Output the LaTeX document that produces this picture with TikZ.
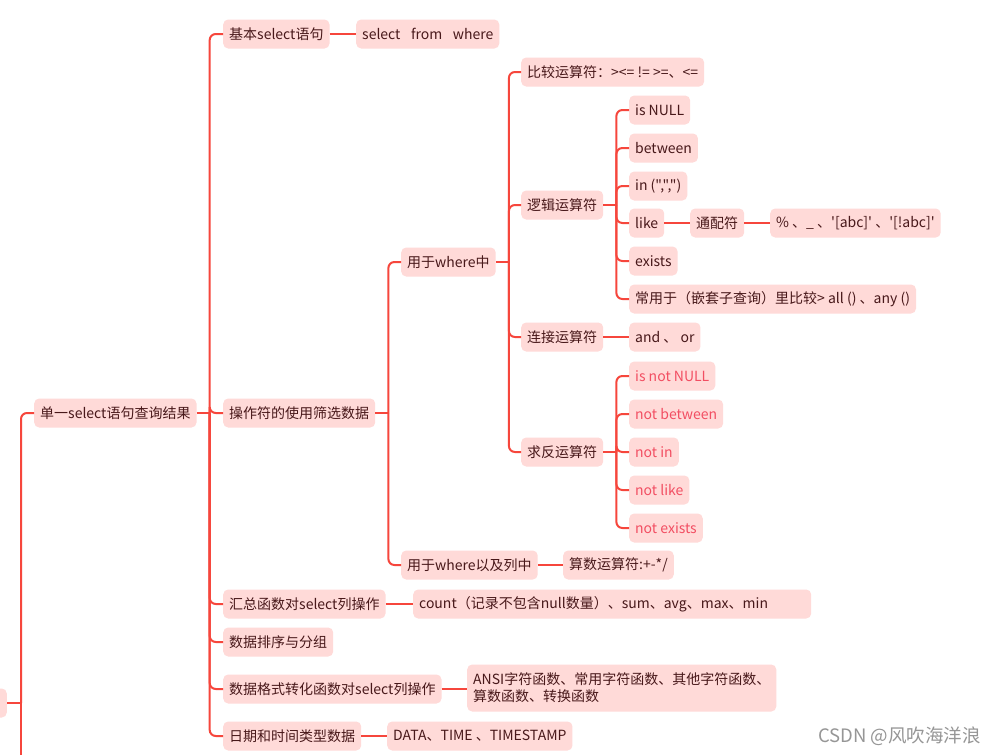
\documentclass[tikz,border=0pt]{standalone}
\usepackage{fontspec}
\setmainfont{Noto Sans CJK SC}[Ligatures=TeXOff]
\usetikzlibrary{calc}
\definecolor{linec}{RGB}{246,70,60}
\definecolor{boxc}{RGB}{255,218,216}
\definecolor{txtc}{RGB}{72,24,26}
\definecolor{notc}{RGB}{242,78,98}
\definecolor{wmc}{RGB}{150,150,150}
\tikzset{
  box/.style={fill=boxc, rounded corners=5pt, minimum height=29pt, inner xsep=6pt, inner ysep=0pt, anchor=west, text=txtc, font=\fontsize{14}{17}\selectfont},
  notbox/.style={box, text=notc},
  conn/.style={draw=linec, line width=2pt},
  elbow/.style={conn, rounded corners=6pt}
}
\begin{document}
\begin{tikzpicture}[x=1pt,y=-1pt]
\clip (0,0) rectangle (996,755);
\fill[white] (0,0) rectangle (996,755);

% nodes
\node[box, minimum width=80pt, anchor=east] (root) at (7,703) {};
\node[box] (single) at (34,413) {单一select语句查询结果};
\node[box] (basic) at (223,34) {基本select语句};
\node[box] (sfw) at (356,34) {select\hspace{0.75em}from\hspace{0.75em}where};
\node[box] (ops) at (223,413) {操作符的使用筛选数据};
\node[box] (inwhere) at (401,262) {用于where中};
\node[box] (cmp) at (521,72) {比较运算符：><= != >=、<=};
\node[box] (logic) at (521,205) {逻辑运算符};
\node[box] (isnull) at (629,110) {is NULL};
\node[box] (between) at (629,148) {between};
\node[box] (in) at (629,186) {in (",",")};
\node[box] (like) at (629,223) {like};
\node[box] (wild) at (690,223) {通配符};
\node[box] (wildv) at (770,223) {\% 、\_ 、'[abc]' 、'[!abc]'};
\node[box] (exists) at (629,261) {exists};
\node[box] (nested) at (629,299) {常用于（嵌套子查询）里比较> all () 、any ()};
\node[box] (conj) at (521,337) {连接运算符};
\node[box] (andor) at (629,337) {and 、 or};
\node[box] (neg) at (521,452) {求反运算符};
\node[notbox] (isnotnull) at (629,376) {is not NULL};
\node[notbox] (notbetween) at (629,414) {not between};
\node[notbox] (notin) at (629,452) {not in};
\node[notbox] (notlike) at (629,490) {not like};
\node[notbox] (notexists) at (629,528) {not exists};
\node[box] (wherecol) at (401,565) {用于where以及列中};
\node[box] (arith) at (563,565) {算数运算符:+-*/};
\node[box] (agg) at (223,604) {汇总函数对select列操作};
\node[box, text width=386pt, align=left] (aggv) at (413,604) {count（记录不包含null数量）、sum、avg、max、min};
\node[box] (sort) at (223,642) {数据排序与分组};
\node[box] (fmt) at (223,689) {数据格式转化函数对select列操作};
\node[box, minimum height=47pt, align=left] (fmtv) at (467,688) {ANSI字符函数、常用字符函数、其他字符函数、\\算数函数、转换函数};
\node[box] (date) at (223,736) {日期和时间类型数据};
\node[box] (datev) at (387,736) {DATA、TIME 、TIMESTAMP};
\node[text=wmc, font=\fontsize{18.5}{20}\selectfont, anchor=east, inner sep=0pt] (wm) at (981,736) {CSDN @风吹海洋浪};

% trunk points
\coordinate (t0) at ($(root.east)+(14,0)$);
\coordinate (t0b) at (21,760);
\coordinate (t1) at ($(single.east)+(13,0)$);
\coordinate (t2) at ($(ops.east)+(13,0)$);
\coordinate (t3) at ($(inwhere.east)+(13,0)$);
\coordinate (t4) at ($(logic.east)+(13,0)$);
\coordinate (t5) at ($(neg.east)+(13,0)$);

% connectors level 0
\draw[conn] (root.east) -- (t0);
\draw[conn] (t0) -- (t0b);
\draw[elbow] (t0) |- (single.west);
% level 1
\draw[conn] (single.east) -- (t1);
\foreach \c in {basic,ops,agg,sort,fmt,date} \draw[elbow] (t1) |- (\c.west);
% ops
\draw[conn] (ops.east) -- (t2);
\foreach \c in {inwhere,wherecol} \draw[elbow] (t2) |- (\c.west);
% in where
\draw[conn] (inwhere.east) -- (t3);
\foreach \c in {cmp,logic,conj,neg} \draw[elbow] (t3) |- (\c.west);
% logic
\draw[conn] (logic.east) -- (t4);
\foreach \c in {isnull,between,in,like,exists,nested} \draw[elbow] (t4) |- (\c.west);
% neg
\draw[conn] (neg.east) -- (t5);
\foreach \c in {isnotnull,notbetween,notin,notlike,notexists} \draw[elbow] (t5) |- (\c.west);
% straight links
\draw[conn] (basic) -- (sfw);
\draw[conn] (like) -- (wild);
\draw[conn] (wild) -- (wildv);
\draw[conn] (conj) -- (andor);
\draw[conn] (wherecol) -- (arith);
\draw[conn] (agg) -- (aggv);
\draw[conn] (fmt.east) -- (fmtv.west |- fmt.east);
\draw[conn] (date) -- (datev);
\end{tikzpicture}
\end{document}
